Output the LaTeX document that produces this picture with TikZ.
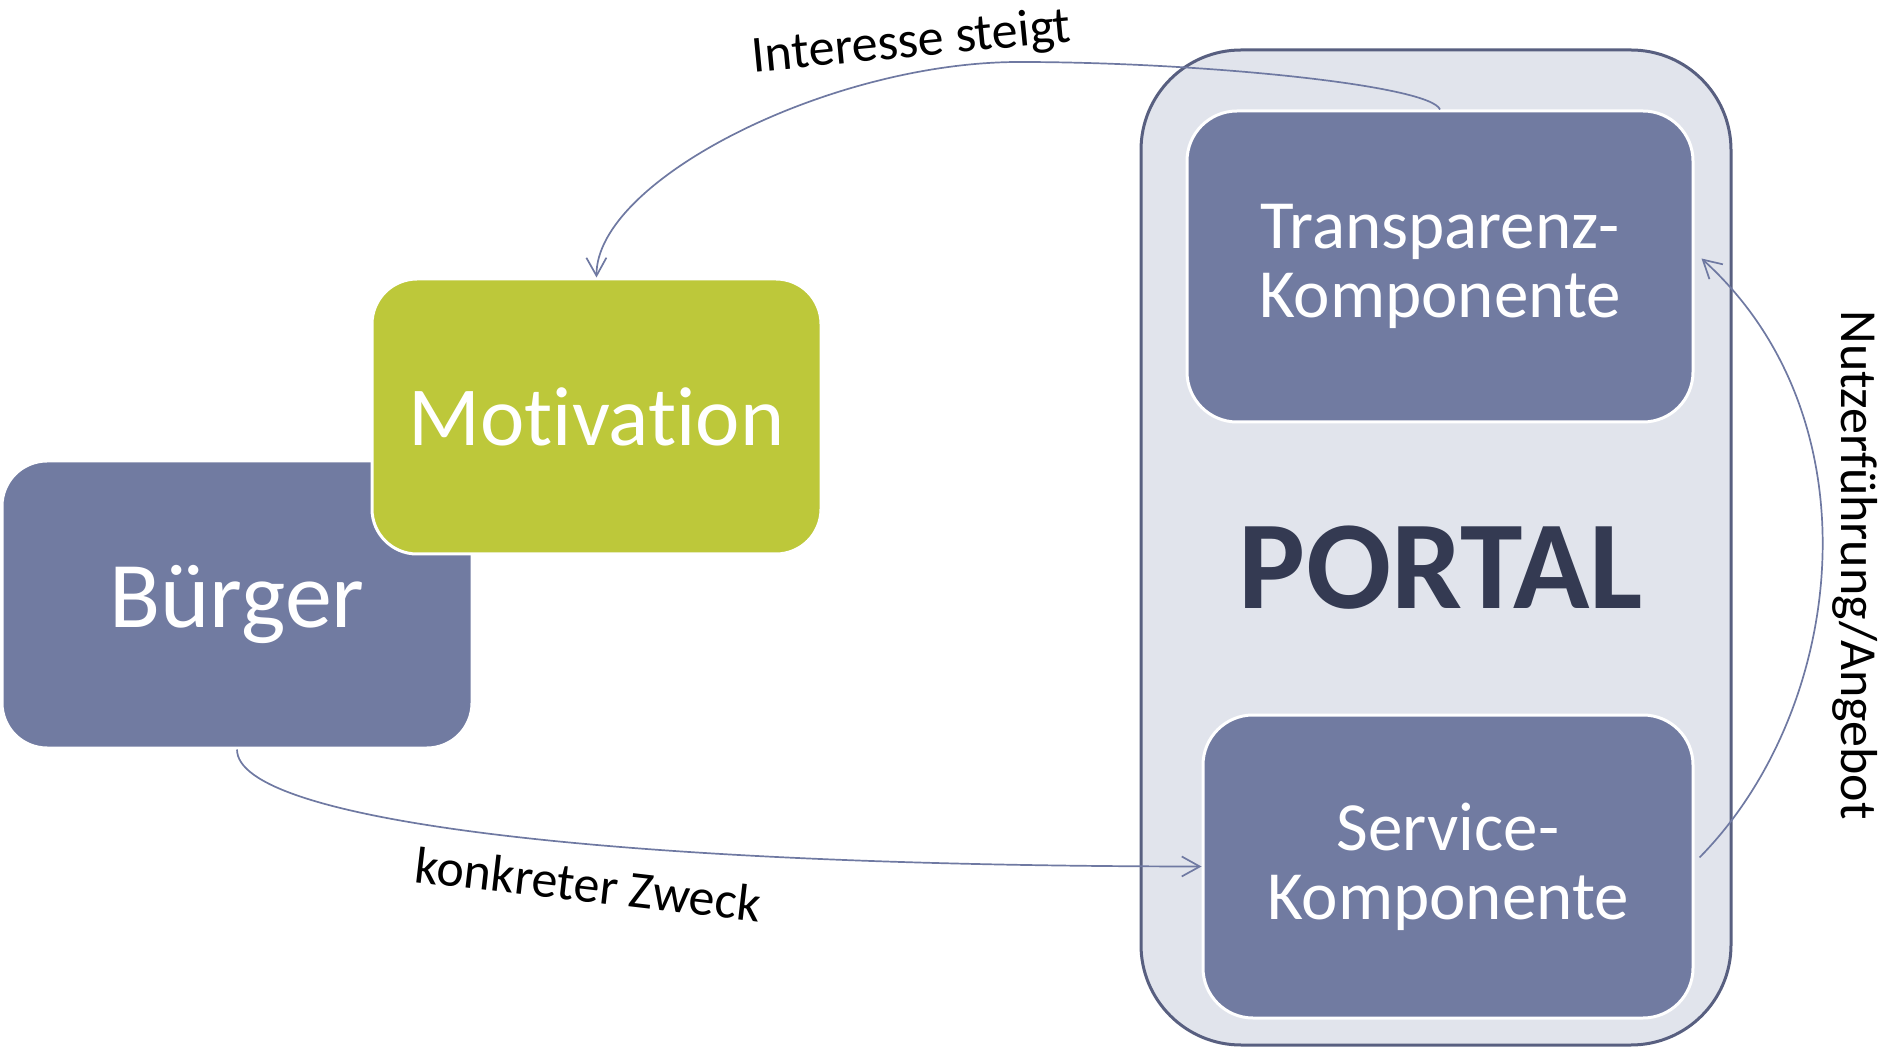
\documentclass[tikz,border=0pt]{standalone}
\usepackage{fontspec}
\setmainfont{Carlito}[Ligatures=NoCommon]
\usetikzlibrary{arrows.meta}
\definecolor{slate}{RGB}{113,123,161}
\definecolor{lime}{RGB}{189,200,58}
\definecolor{portalfill}{RGB}{225,228,236}
\definecolor{portalline}{RGB}{88,95,128}
\definecolor{portaltext}{RGB}{52,58,82}
\definecolor{flow}{RGB}{111,121,162}
\tikzset{
  box/.style={rectangle, draw=white, line width=1.5pt, text=white, align=center, inner sep=0pt},
  flowline/.style={draw=flow, line width=0.85pt, -{Straight Barb[length=9pt,width=10pt]}},
  flowlabel/.style={inner sep=0pt, anchor=base, font=\fontsize{26}{26}\selectfont, text=black}
}
\begin{document}
\begin{tikzpicture}[x=0.5pt,y=-0.5pt]
\useasboundingbox (0,0) rectangle (1890,1047);

% portal container with its two components
\node[rectangle, fill=portalfill, draw=portalline, line width=1.5pt, rounded corners=50pt,
      minimum width=295pt, minimum height=497.5pt] (portal) at (1436,547.5) {};
\node[box, fill=slate, rounded corners=25pt, minimum width=253pt, minimum height=155.5pt,
      font=\fontsize{34.5}{34.5}\selectfont] (trans) at (1440,266.5) {Transparenz-\\Komponente};
\node[box, fill=slate, rounded corners=25pt, minimum width=245pt, minimum height=151.5pt,
      font=\fontsize{34.5}{34.5}\selectfont] (service) at (1448,866.5) {Service-\\Komponente};
\node[inner sep=0pt, text=portaltext, font=\fontsize{63}{63}\selectfont\bfseries] (ptitle) at (1441,568) {PORTAL};

% citizen and motivation
\node[box, fill=slate, rounded corners=22.5pt, minimum width=235pt, minimum height=143.5pt,
      font=\fontsize{47}{47}\selectfont] (buerger) at (237,604.5) {Bürger};
\node[box, fill=lime, rounded corners=22.5pt, minimum width=224.5pt, minimum height=137.5pt,
      font=\fontsize{42}{42}\selectfont] (motiv) at (596.5,416.5) {Motivation};

% connectors
\draw[flowline] (trans.north) .. controls (1430,85) and (1200,62) .. (1019,62)
  .. controls (830,62) and (596,180) .. (motiv.north);
\draw[flowline] (buerger.south) .. controls (237,820) and (600,866) .. (service.west);
\draw[flowline] ([shift={(5,-9)}]service.east) .. controls (1845,710) and (1880,420) .. ([shift={(7,-8)}]trans.east);

% connector labels
\node[flowlabel, rotate=5.5] (lint) at (913,57) {Interesse steigt};
\node[flowlabel, rotate=-6.6] (lzweck) at (586,902) {konkreter Zweck};
\node[flowlabel, rotate=-90] (lnutz) at (1841,565) {Nutzerführung/Angebot};
\end{tikzpicture}
\end{document}
